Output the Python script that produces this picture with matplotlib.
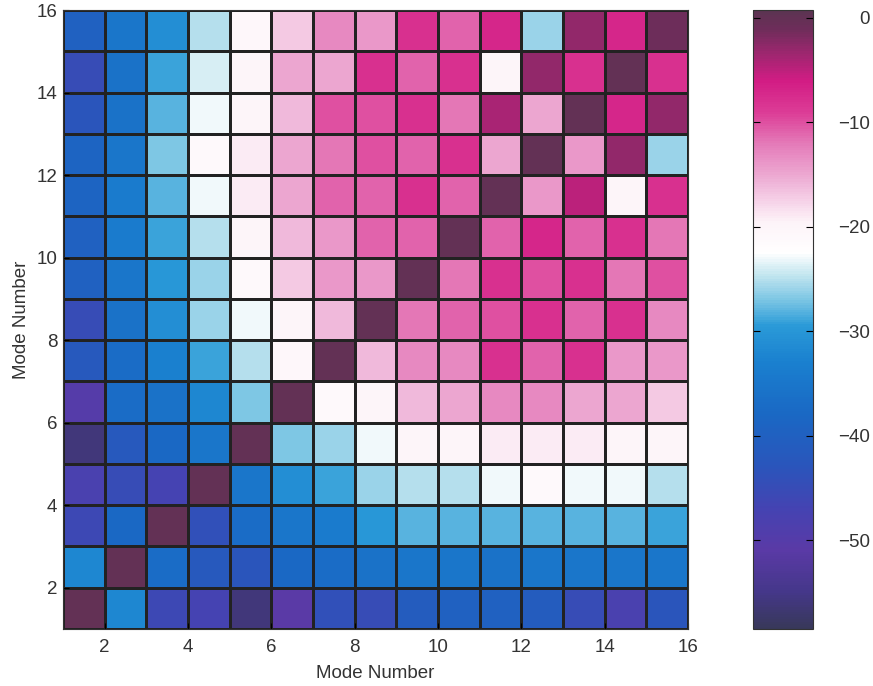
import matplotlib
matplotlib.use("Agg")
import matplotlib.pyplot as plt
import numpy as np
from matplotlib.colors import LinearSegmentedColormap

# mode coupling levels, row 1 (bottom) to row 15 (top), columns 1..15
row01 = [0, -32, -46, -47, -56, -51, -44, -45, -41, -40, -40, -41, -45, -48, -43]
row02 = [-32, 0, -37, -42, -43, -38, -37, -36, -35, -35, -36, -35, -35, -35, -35]
row03 = [-46, -38, 0, -44, -37, -35, -34, -30, -28, -28, -28, -28, -28, -28, -29]
row04 = [-48, -45, -47, 0, -35, -31, -29, -26, -25, -25, -23, -21, -23, -23, -25]
row05 = [-56, -42, -38, -35, 0, -27, -26, -23, -20, -20, -19, -19, -19, -20, -20]
row06 = [-50, -37, -36, -32, -27, 0, -21, -20, -16, -15, -13, -13, -15, -15, -17]
row07 = [-42, -37, -33, -29, -25, -20.5, 0, -16, -13, -13, -8, -11, -8, -14, -14]
row08 = [-45, -36, -31, -26, -23, -20, -16, 0, -12, -11, -10, -8, -11, -8, -13]
row09 = [-40, -35, -30, -26, -21, -17, -14, -14, 0, -12, -8, -10, -8, -12, -10]
row10 = [-40, -34, -29, -25, -20, -16, -14, -11, -11, 0, -11, -7, -11, -8, -12]
row11 = [-39, -34, -28, -23, -19, -15, -11, -11, -8, -11, 0, -14, -5, -20, -8]
row12 = [-39, -35, -27, -21, -19, -15, -12, -10, -11, -8, -15, 0, -14, -3, -26]
row13 = [-43, -36, -28, -23, -20, -16, -10, -10, -8, -12, -4, -15, 0, -7, -3]
row14 = [-45, -36, -29, -24, -20, -15, -15, -8, -11, -8, -20, -3, -8, 0, -8]
row15 = [-40, -35, -31, -25, -20.5, -17, -13, -14, -8, -11, -7, -26, -3, -7, -1]

levels = np.array([row01, row02, row03, row04, row05, row06, row07, row08,
                   row09, row10, row11, row12, row13, row14, row15])
modes = np.arange(1, 17)

vmin, vmax = -58.5, 0.7
nodes = [(-58.5, '#38385a'), (-55, '#45378a'), (-51, '#5a3aa6'),
         (-47, '#4443b2'), (-43, '#2a55bb'), (-38, '#1a68c4'),
         (-33, '#1a80cf'), (-29.5, '#2a9ad8'), (-27, '#7cc6e4'),
         (-24.5, '#c6e7f0'), (-22.5, '#ffffff'), (-19.5, '#fdf3f8'),
         (-17.5, '#f6d2e8'), (-15.5, '#eeb0d6'), (-12, '#e47ab8'),
         (-9, '#dc3c96'), (-6, '#d21c84'), (-3.5, '#a02670'),
         (-1, '#6e2d5a'), (0.7, '#5c3452')]
cmap = LinearSegmentedColormap.from_list(
    'coupling', [((v - vmin) / (vmax - vmin), c) for v, c in nodes], N=256)

plt.rcParams['font.family'] = ['Liberation Sans', 'DejaVu Sans']

fig = plt.figure(figsize=(8.73, 6.86), dpi=100)
ax = fig.add_axes([0.0722, 0.0831, 0.716, 0.902])
cax = fig.add_axes([0.8625, 0.0831, 0.0687, 0.902])

mesh = ax.pcolormesh(modes, modes, levels, cmap=cmap, vmin=vmin, vmax=vmax,
                     edgecolors='#222222', linewidth=0.8)
ax.set_xlim(1, 16)
ax.set_ylim(1, 16)
ax.set_xticks(range(2, 17, 2))
ax.set_yticks(range(2, 17, 2))
ax.tick_params(direction='in', length=4, labelsize=13.5, labelcolor='#333333')
ax.tick_params(axis='x', pad=7)
ax.tick_params(axis='y', pad=4)
ax.set_xlabel('Mode Number', fontsize=13.5, color='#333333', labelpad=7)
ax.set_ylabel('Mode Number', fontsize=13.5, color='#333333', labelpad=5)
for s in ax.spines.values():
    s.set_color('#333333')

cb = fig.colorbar(mesh, cax=cax)
cb.set_ticks([0, -10, -20, -30, -40, -50])
cb.outline.set_edgecolor('#333333')
cax.tick_params(direction='in', length=5, left=True, right=True,
                labelsize=13.5, labelcolor='#333333', pad=41)
for lab in cax.get_yticklabels():
    lab.set_horizontalalignment('right')

fig.savefig('out.png', dpi=100)
